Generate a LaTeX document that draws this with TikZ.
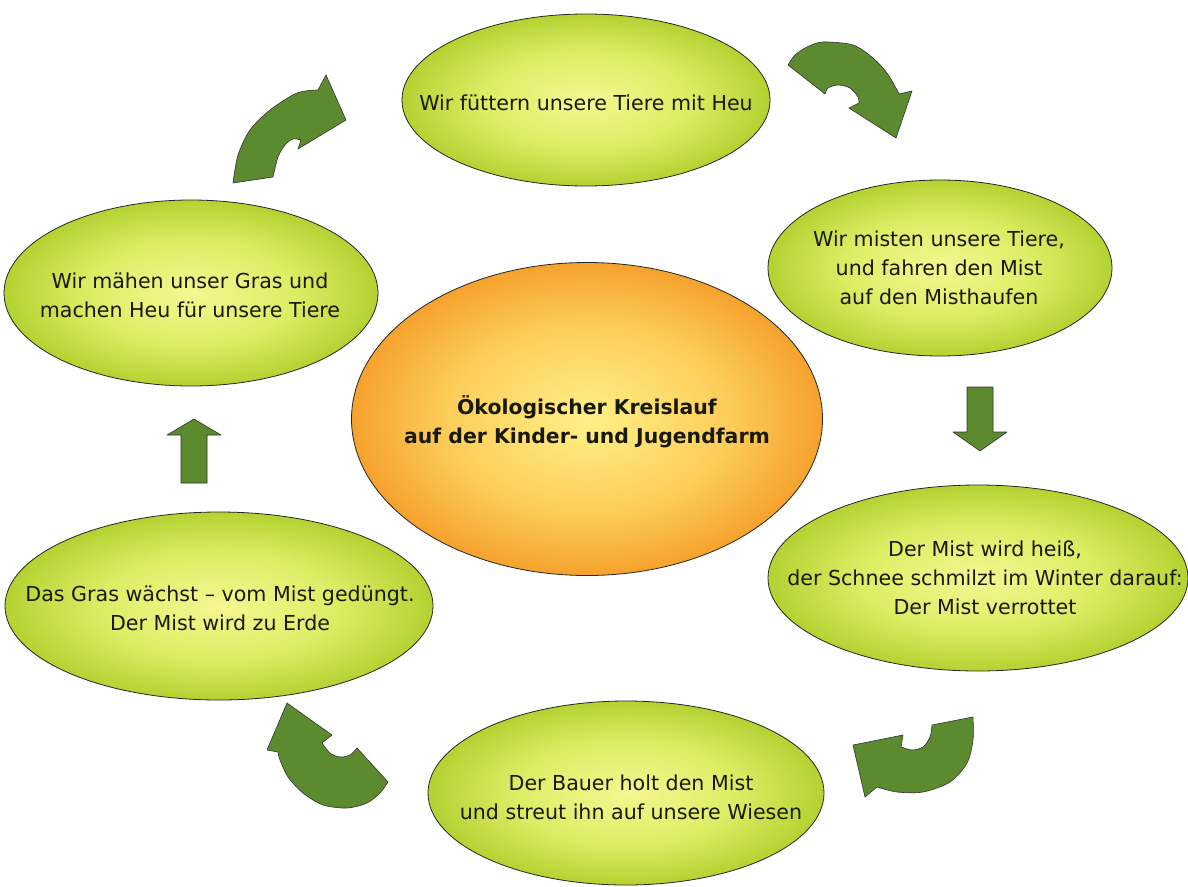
\documentclass[tikz,border=0pt]{standalone}
\usepackage{fontspec}
\setmainfont{DejaVu Sans}
\usetikzlibrary{shapes.geometric}
\definecolor{gin}{RGB}{245,247,145}
\definecolor{gmid}{RGB}{222,236,100}
\definecolor{gout}{RGB}{180,210,50}
\definecolor{oin}{RGB}{255,240,135}
\definecolor{omid}{RGB}{252,205,90}
\definecolor{oout}{RGB}{245,162,45}
\definecolor{arrowgreen}{RGB}{92,138,46}
\definecolor{txt}{RGB}{25,25,10}
\pgfdeclareradialshading{greenball}{\pgfpoint{0bp}{0bp}}{color(0bp)=(gin); color(14bp)=(gmid); color(25bp)=(gout); color(50bp)=(gout)}
\pgfdeclareradialshading{orangeball}{\pgfpoint{0bp}{0bp}}{color(0bp)=(oin); color(15bp)=(omid); color(25bp)=(oout); color(50bp)=(oout)}
\tikzset{
  stage/.style={ellipse, draw=black!85, line width=0.8pt, shading=greenball, inner sep=0pt},
  hub/.style={stage, shading=orangeball},
  caption/.style={align=center, inner sep=0pt, text=txt, font=\fontsize{20.6pt}{29pt}\selectfont},
  hubcaption/.style={caption, font=\bfseries\fontsize{20.4pt}{29pt}\selectfont},
  blockarrow/.style={fill=arrowgreen, draw=black!80, line width=0.6pt, line join=round}
}
\begin{document}
\begin{tikzpicture}[x=1pt, y=-1pt]
\useasboundingbox (0,0) rectangle (1188,886);
\fill[white] (0,0) rectangle (1188,886);

% ellipses
\node[stage, minimum width=368pt, minimum height=172pt] (feed) at (586,100) {};
\node[caption] (feedtext) at (586,103) {Wir füttern unsere Tiere mit Heu};
\node[stage, minimum width=344pt, minimum height=176pt] (muck) at (940,268) {};
\node[caption] (mucktext) at (939,268) {Wir misten unsere Tiere,\\und fahren den Mist\\auf den Misthaufen};
\node[stage, minimum width=374pt, minimum height=186pt] (mow) at (191,293) {};
\node[caption] (mowtext) at (190,295) {Wir mähen unser Gras und\\machen Heu für unsere Tiere};
\node[hub, minimum width=471pt, minimum height=313pt] (hub) at (587,419) {};
\node[hubcaption] (hubtext) at (587,422) {Ökologischer Kreislauf\\auf der Kinder- und Jugendfarm};
\node[stage, minimum width=420pt, minimum height=186pt] (rot) at (978,578) {};
\node[caption] (rottext) at (985,578) {Der Mist wird heiß,\\der Schnee schmilzt im Winter darauf:\\Der Mist verrottet};
\node[stage, minimum width=428pt, minimum height=188pt] (grow) at (219,606) {};
\node[caption] (growtext) at (220,608) {Das Gras wächst – vom Mist gedüngt.\\Der Mist wird zu Erde};
\node[stage, minimum width=396pt, minimum height=184pt] (spread) at (626,793) {};
\node[caption] (spreadtext) at (631,797) {Der Bauer holt den Mist\\und streut ihn auf unsere Wiesen};

% straight block arrows
\draw[blockarrow] (967,387) -- (993,387) -- (993,432) -- (1007,432) -- (980,451) -- (953,432) -- (967,432) -- cycle;
\draw[blockarrow] (181,483) -- (207,483) -- (207,435) -- (221,435) -- (194,419) -- (167,435) -- (181,435) -- cycle;

% curved block arrows
% top left
\draw[blockarrow] (233,183) -- (273,177)
  -- plot[smooth] coordinates {(273,177) (278,157) (285,145) (293,139) (301,140)}
  -- (298,149) -- (346,120) -- (326,75) -- (318,90)
  -- plot[smooth] coordinates {(318,90) (297,93) (270,110) (250,130) (238,155) (233,183)} -- cycle;
% top right
\draw[blockarrow] (788,65) -- (825,94)
  -- plot[smooth] coordinates {(825,94) (828,88) (838,85) (850,88) (858,97) (859,103)}
  -- (849,108) -- (896,138) -- (912,91) -- (899,94)
  -- plot[smooth] coordinates {(899,94) (897,90) (887,73) (873,58) (853,45) (823,42) (807,47) (795,55) (788,65)} -- cycle;
% bottom right
\draw[blockarrow] (973,717) -- (932,725)
  -- plot[smooth] coordinates {(932,725) (930,737) (923,747) (912,750) (901,747)}
  -- (903,735) -- (853,745) -- (865,797) -- (877,787)
  -- plot[smooth] coordinates {(877,787) (897,792) (923,792) (950,782) (967,763) (973,740) (973,717)} -- cycle;
% bottom left
\draw[blockarrow] (388,782) -- (357,748)
  -- plot[smooth] coordinates {(357,748) (350,755) (340,757) (330,753) (322,743)}
  -- (332,735) -- (287,703) -- (267,750) -- (278,752)
  -- plot[smooth] coordinates {(278,752) (280,760) (288,777) (303,793) (323,805) (347,808) (367,803) (380,793) (388,782)} -- cycle;
\end{tikzpicture}
\end{document}
